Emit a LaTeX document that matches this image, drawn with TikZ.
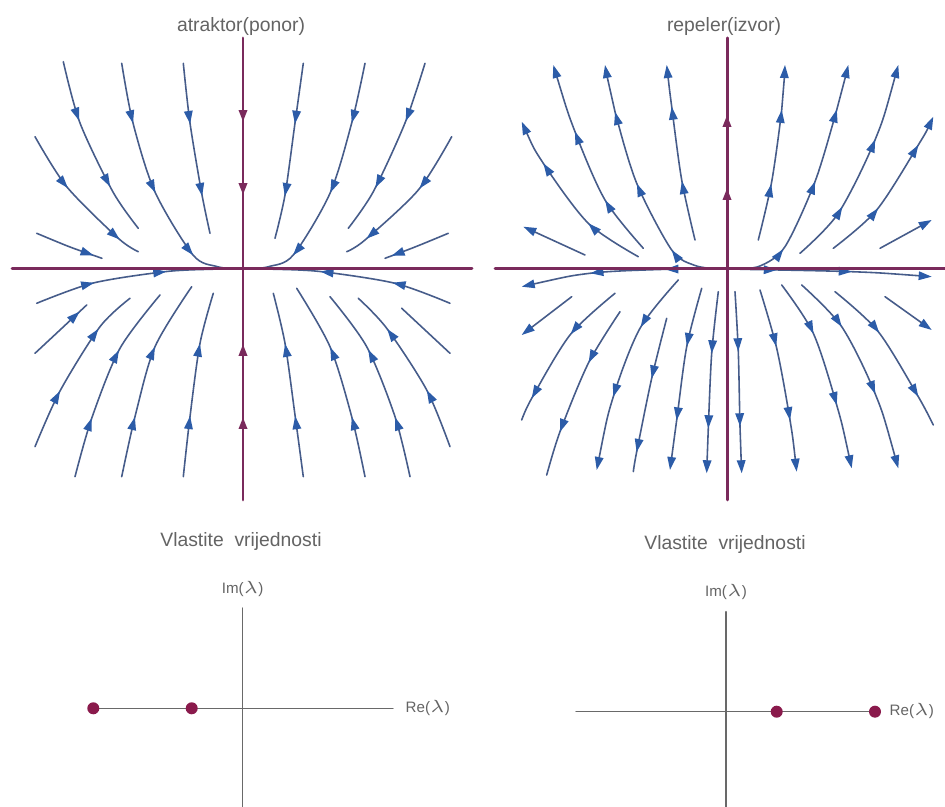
\documentclass[tikz,border=0pt]{standalone}
\usepackage{fontspec}
\setmainfont{Liberation Sans}
\usetikzlibrary{arrows.meta,decorations.markings}
\definecolor{axispurple}{RGB}{122,42,92}
\definecolor{streamblue}{RGB}{70,92,138}
\definecolor{tipblue}{RGB}{44,92,168}
\definecolor{eigdot}{RGB}{138,26,76}
\definecolor{eiggray}{RGB}{105,105,105}
\definecolor{labelgray}{RGB}{100,100,100}
\tikzset{
  flowtip/.tip={Triangle[length=0.13cm,width=0.085cm,color=tipblue]},
  axistip/.tip={Triangle[length=0.12cm,width=0.08cm,color=axispurple]}
}

\begin{document}
\begin{tikzpicture}[x=0.01cm,y=-0.01cm,line cap=round,line join=round,
  stream/.style={draw=streamblue,line width=0.45pt},
  inflow/.style={postaction={decorate,decoration={markings,
      mark=between positions 0.61cm and -0.06cm step 0.73cm with {\arrow{flowtip}}}}},
  outflow/.style={postaction={decorate,decoration={markings,
      mark=between positions #1 and -0.06cm step 0.75cm with {\arrowreversed{flowtip}}}}},
  tipout/.style={arrows={flowtip-}},
  phaseaxis/.style={draw=axispurple,line width=0.85pt},
  axisflow/.style={postaction={decorate,decoration={markings,
      mark=between positions #1 and -0.06cm step 0.73cm with {\arrow{axistip}}}}},
  eigaxis/.style={draw=eiggray,line width=0.4pt},
  eigval/.style={circle,fill=eigdot,inner sep=0pt,minimum size=0.12cm},
  title/.style={text=labelgray,font=\fontsize{5.5pt}{6.5pt}\selectfont,inner sep=0pt},
  axlabel/.style={text=labelgray,font=\fontsize{4.3pt}{5pt}\selectfont,inner sep=0pt}]
  \path[fill=white,use as bounding box] (0,0) rectangle (945,807);

  % atraktor: gornja polovina
  \draw[stream,inflow] plot[smooth] coordinates {(63.3,61.7) (80,123) (113,192) (138.3,228.3)};
  \draw[stream,inflow] plot[smooth] coordinates {(121.7,63.3) (133,123) (155,192) (193,255) (216.7,266.5) (236,269)};
  \draw[stream,inflow] plot[smooth] coordinates {(183.3,63.3) (190,123) (201.7,193.3) (210,233.3)};
  \draw[stream,inflow] plot[smooth] coordinates {(303.3,63.3) (295,123) (285,195) (275,238.3)};
  \draw[stream,inflow] plot[smooth] coordinates {(365,63.3) (351.7,123) (330,193.3) (293.3,255) (269.3,266.5) (250,269)};
  \draw[stream,inflow] plot[smooth] coordinates {(425,63.3) (405,123) (373.3,191.7) (348.3,228.3)};
  \draw[stream,inflow] plot[smooth] coordinates {(35,136.7) (66.7,186.7) (118.3,238.3) (138.3,251.7)};
  \draw[stream,inflow] plot[smooth] coordinates {(451.7,136.7) (418.3,190) (365,240) (346.7,251.7)};
  \draw[stream,inflow] plot[smooth] coordinates {(36.7,233.3) (70,247) (102,258.3)};
  \draw[stream,inflow] plot[smooth] coordinates {(448.3,233.3) (415,247) (385,258.3)};
  % atraktor: uz os x
  \draw[stream,inflow] plot[smooth] coordinates {(36.7,303.3) (93.3,283) (166.7,271.5) (213,269.3)};
  \draw[stream,inflow] plot[smooth] coordinates {(450,303.3) (395,283.3) (320,271.5) (273,269.3)};
  % atraktor: donja polovina
  \draw[stream,inflow] plot[smooth] coordinates {(35,353.3) (60,330) (86.7,305)};
  \draw[stream,inflow] plot[smooth] coordinates {(35,446.7) (60,391) (100,326.7) (130,298.3)};
  \draw[stream,inflow] plot[smooth] coordinates {(75,476.7) (91.7,418.3) (120,348.3) (160,295)};
  \draw[stream,inflow] plot[smooth] coordinates {(121.7,476.7) (135,416.7) (155,346.7) (191.7,286.7)};
  \draw[stream,inflow] plot[smooth] coordinates {(183.3,476.7) (190,416.7) (200,343.3) (213.3,293.3)};
  \draw[stream,inflow] plot[smooth] coordinates {(303.3,476.7) (295,415) (285,343.3) (273.3,293.3)};
  \draw[stream,inflow] plot[smooth] coordinates {(365,476.7) (351.7,416.7) (330,346.7) (296.7,288.3)};
  \draw[stream,inflow] plot[smooth] coordinates {(410,476.7) (395,416.7) (366.7,346.7) (330,296.7)};
  \draw[stream,inflow] plot[smooth] coordinates {(450,446.7) (426.7,390) (386.7,328.3) (358.3,298.3)};
  \draw[stream,inflow] plot[smooth] coordinates {(450,353.3) (425,330) (401.7,308.3)};
  % atraktor: osi
  \draw[phaseaxis] (12,269) -- (472,269);
  \draw[phaseaxis,axisflow=0.84cm] (243,38) -- (243,269);
  \draw[phaseaxis,axisflow=0.83cm] (243,500) -- (243,269);

  % repeler: gornja polovina
  \draw[stream,tipout,outflow=0.47cm] plot[smooth] coordinates {(521.7,121.7) (543.3,163.3) (588.3,223.3) (638.3,256.7)};
  \draw[stream,tipout,outflow=0.70cm] plot[smooth] coordinates {(553.3,65) (575,131.7) (605,200) (643.3,248.3)};
  \draw[stream,tipout,outflow=0.48cm] plot[smooth] coordinates {(605,65) (615,111.7) (636.7,183.3) (671.7,250) (695,265.5) (718,269)};
  \draw[stream,tipout,outflow=0.42cm] plot[smooth] coordinates {(666.7,65) (671.7,106.7) (681.7,180) (695,240)};
  \draw[stream,tipout] (523.3,226.7) -- (585,255);
  \draw[stream,tipout,outflow=0.45cm] plot[smooth] coordinates {(785,65) (781.7,110) (771.7,181.7) (758.3,240)};
  \draw[stream,tipout,outflow=0.46cm] plot[smooth] coordinates {(848.3,65) (836.7,110) (815,181.7) (785,246.7) (760,266) (736,269)};
  \draw[stream,tipout,outflow=0.78cm] plot[smooth] coordinates {(898.3,65) (875,140) (838.3,213.3) (800,253.3)};
  \draw[stream,tipout,outflow=0.32cm] plot[smooth] coordinates {(933.3,116.7) (918.3,145) (876.7,210) (833.3,248.3)};
  \draw[stream,tipout] (931.7,220) -- (880,248.3);
  % repeler: uz os x
  \draw[stream,tipout,outflow=0.70cm] plot[smooth] coordinates {(521.7,286.7) (590,273.3) (660,269.5) (715,269)};
  \draw[stream,tipout,outflow=0.80cm] plot[smooth] coordinates {(931.7,276.7) (851.7,271.7) (740,269.3)};
  % repeler: donja polovina
  \draw[stream,tipout] (521.7,335) -- (571.7,296.7);
  \draw[stream,outflow=0.24cm] plot[smooth] coordinates {(521.7,420) (531.7,398.3) (570,335) (615,293.3)};
  \draw[stream,outflow=0.45cm] plot[smooth] coordinates {(546.7,475) (560,431.7) (588.3,363.3) (620,311.7)};
  \draw[stream,tipout,outflow=0.75cm] plot[smooth] coordinates {(596.7,470) (613.3,396.7) (640,328.3) (678.3,280)};
  \draw[stream,outflow=0.20cm] plot[smooth] coordinates {(633.3,471.7) (636.7,451.7) (651.7,378.3) (666.7,318.3)};
  \draw[stream,tipout,outflow=0.50cm] plot[smooth] coordinates {(670,470) (676.7,420) (686.7,346.7) (701.7,288.3)};
  \draw[stream,tipout,outflow=0.45cm] plot[smooth] coordinates {(706.7,473.3) (708.3,428.3) (711.7,353.3) (718.3,291.7)};
  \draw[stream,tipout,outflow=0.47cm] plot[smooth] coordinates {(741.7,473.3) (740,426.7) (738.3,351.7) (735,291.7)};
  \draw[stream,tipout,outflow=0.52cm] plot[smooth] coordinates {(796.7,471.7) (790,420) (776.7,348.3) (760,290)};
  \draw[stream,tipout,outflow=0.65cm] plot[smooth] coordinates {(851.7,468.3) (836.7,405) (813.3,333.3) (781.7,285)};
  \draw[stream,tipout,outflow=0.78cm] plot[smooth] coordinates {(898.3,468.3) (875,393.3) (841.7,326.7) (801.7,285)};
  \draw[stream,outflow=0.32cm] plot[smooth] coordinates {(933.3,425) (918.3,396.7) (878.3,331.7) (835,291.7)};
  \draw[stream,tipout] (931.7,330) -- (885,296.7);
  % repeler: osi
  \draw[phaseaxis] (495,269) -- (945,269);
  \draw[phaseaxis] (727,269) -- (727,500);
  \draw[phaseaxis,axisflow=0.81cm] (727,269) -- (727,38);

  % naslovi
  \node[title,anchor=base] (attTitle) at (241,32) {atraktor(ponor)};
  \node[title,anchor=base] (repTitle) at (724,32) {repeler(izvor)};

  % vlastite vrijednosti: atraktor
  \node[title,anchor=base] (eigTitleA) at (241,546.7) {Vlastite\ \ vrijednosti};
  \node[axlabel,anchor=base] (imA) at (242.7,594) {Im($\lambda$)};
  \node[axlabel,anchor=base west] (reA) at (405,712.7) {Re($\lambda$)};
  \draw[eigaxis] (242.7,608) -- (242.7,807);
  \draw[eigaxis] (93.3,708.3) -- (393,708.3);
  \node[eigval] (evA1) at (93.3,708.3) {};
  \node[eigval] (evA2) at (191.7,708.3) {};

  % vlastite vrijednosti: repeler
  \node[title,anchor=base] (eigTitleR) at (725,550) {Vlastite\ \ vrijednosti};
  \node[axlabel,anchor=base] (imR) at (726,597) {Im($\lambda$)};
  \node[axlabel,anchor=base west] (reR) at (889,716) {Re($\lambda$)};
  \draw[eigaxis] (726,611.7) -- (726,807);
  \draw[eigaxis] (576,711.7) -- (875,711.7);
  \node[eigval] (evR1) at (776.7,711.7) {};
  \node[eigval] (evR2) at (875,711.7) {};
\end{tikzpicture}
\end{document}
